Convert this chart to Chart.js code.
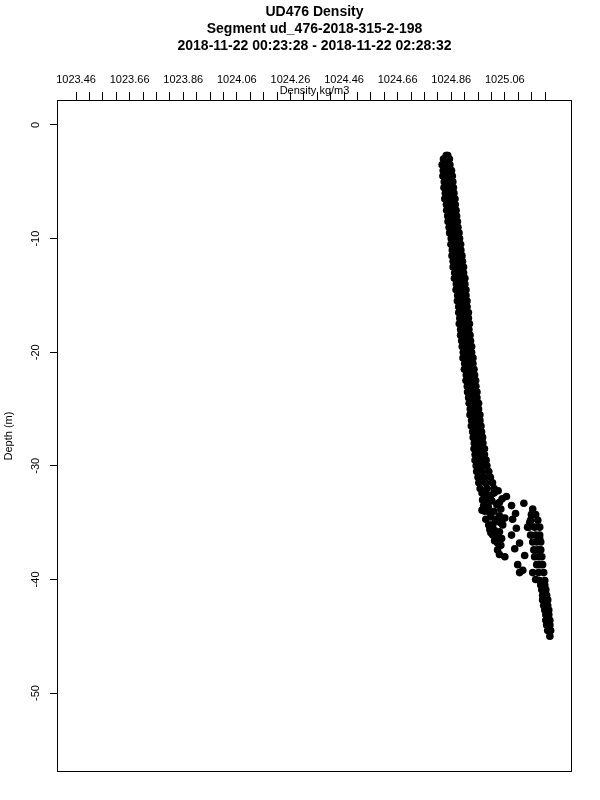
<!DOCTYPE html>
<html>
<head>
<meta charset="utf-8">
<script src="https://cdn.jsdelivr.net/npm/chart.js@4/dist/chart.umd.min.js"></script>
<style>
  body { margin: 0; background: #fff; }
  canvas { display: block; }
</style>
</head>
<body>
<canvas id="chart" width="600" height="800"></canvas>
<script>
const titleLines = [
  "UD476 Density",
  "Segment ud_476-2018-315-2-198",
  "2018-11-22 00:23:28 - 2018-11-22 02:28:32"
];
const xTitle = "Density kg/m3";
const yTitle = "Depth (m)";

// top axis: labelled every 0.2, small ticks every 0.05
const xTickLabels = ["1023.46", "1023.66", "1023.86", "1024.06", "1024.26", "1024.46", "1024.66", "1024.86", "1025.06"];
const xTickStart = 1023.46;
const xTickStep = 0.05;
const xTickCount = 36;
const yTickValues = [-50, -40, -30, -20, -10, 0];

// main profile band, one row per depth: left edge, middle, right edge
const bandDepth = [-2.7, -3.0, -3.5, -4.0, -4.5, -5.0, -5.5, -6.0, -6.5, -7.0, -7.5, -8.0, -8.5, -9.0, -9.5,
  -10.0, -10.5, -11.0, -11.5, -12.0, -12.5, -13.0, -13.5, -14.0, -14.5, -15.0, -15.5, -16.0, -16.5, -17.0,
  -17.5, -18.0, -18.5, -19.0, -19.5, -20.0, -20.5, -21.0, -21.5, -22.0, -22.5, -23.0, -23.5, -24.0, -24.5,
  -25.0, -25.5, -26.0, -26.5, -27.0, -27.5, -28.0, -28.5, -29.0, -29.5, -30.0, -30.5, -31.0, -31.5, -32.0];
const bandLeft = [1024.841, 1024.831, 1024.826, 1024.830, 1024.829, 1024.834, 1024.833, 1024.838, 1024.836, 1024.842,
  1024.843, 1024.847, 1024.848, 1024.852, 1024.854, 1024.860, 1024.859, 1024.864, 1024.863, 1024.867,
  1024.867, 1024.873, 1024.872, 1024.879, 1024.878, 1024.884, 1024.883, 1024.888, 1024.888, 1024.892,
  1024.890, 1024.895, 1024.895, 1024.899, 1024.901, 1024.905, 1024.904, 1024.910, 1024.909, 1024.916,
  1024.915, 1024.920, 1024.921, 1024.925, 1024.927, 1024.931, 1024.930, 1024.936, 1024.935, 1024.940,
  1024.942, 1024.946, 1024.945, 1024.949, 1024.949, 1024.953, 1024.955, 1024.960, 1024.963, 1024.968];
const bandMid = [1024.844, 1024.842, 1024.840, 1024.845, 1024.846, 1024.849, 1024.850, 1024.853, 1024.855, 1024.858,
  1024.860, 1024.862, 1024.866, 1024.868, 1024.871, 1024.875, 1024.877, 1024.879, 1024.881, 1024.884,
  1024.886, 1024.889, 1024.891, 1024.894, 1024.896, 1024.899, 1024.901, 1024.903, 1024.905, 1024.907,
  1024.909, 1024.910, 1024.912, 1024.915, 1024.918, 1024.920, 1024.922, 1024.925, 1024.927, 1024.931,
  1024.933, 1024.935, 1024.938, 1024.940, 1024.944, 1024.946, 1024.948, 1024.951, 1024.953, 1024.956,
  1024.959, 1024.961, 1024.964, 1024.966, 1024.969, 1024.972, 1024.976, 1024.982, 1024.988, 1024.994];
const bandRight = [1024.847, 1024.853, 1024.855, 1024.861, 1024.864, 1024.866, 1024.868, 1024.870, 1024.874, 1024.875,
  1024.878, 1024.880, 1024.883, 1024.885, 1024.889, 1024.891, 1024.895, 1024.896, 1024.900, 1024.902,
  1024.906, 1024.906, 1024.911, 1024.911, 1024.915, 1024.915, 1024.919, 1024.919, 1024.924, 1024.924,
  1024.928, 1024.926, 1024.930, 1024.932, 1024.936, 1024.936, 1024.941, 1024.941, 1024.945, 1024.947,
  1024.951, 1024.952, 1024.956, 1024.956, 1024.962, 1024.962, 1024.967, 1024.967, 1024.971, 1024.973,
  1024.977, 1024.978, 1024.984, 1024.984, 1024.990, 1024.993, 1025.000, 1025.006, 1025.014, 1025.020];

// mixed layer around 32-40 m
const mixDepth = [-32.4, -32.5, -32.6, -32.4, -33.0, -33.0, -33.1, -33.5, -33.6, -33.4, -34.0, -34.1, -34.0,
  -34.7, -34.5, -34.7, -35.2, -35.2, -35.0, -35.6, -35.7, -36.1, -36.3, -36.6, -36.8, -37.4,
  -32.2, -33.2, -33.8, -34.4, -35.8, -36.4, -37.0, -37.8, -35.9, -33.9, -32.9, -34.9,
  -32.7, -33.5, -33.3, -34.2, -33.8, -34.3, -34.3, -34.6, -34.7, -35.2, -35.5, -36.1, -35.4, -36.8,
  -37.3, -38.0, -37.9, -38.7, -39.4, -39.4, -40.0, -35.0, -36.4, -39.2];
const mixDensity = [1024.975, 1024.990, 1025.008, 1025.020, 1024.977, 1024.995, 1025.012, 1024.981, 1024.998, 1025.030,
  1024.985, 1025.004, 1025.019, 1024.989, 1025.008, 1025.026, 1025.000, 1025.015, 1025.045, 1025.004,
  1025.022, 1025.015, 1025.030, 1025.022, 1025.033, 1025.033,
  1025.035, 1025.040, 1025.045, 1025.040, 1025.040, 1025.048, 1025.045, 1025.040, 1025.008, 1024.975,
  1025.050, 1025.035,
  1025.066, 1025.085, 1025.131, 1025.100, 1025.164, 1025.159, 1025.175, 1025.060, 1025.089, 1025.052,
  1025.103, 1025.085, 1025.145, 1025.115, 1025.097, 1025.060, 1025.134, 1025.108, 1025.115, 1025.164,
  1025.175, 1025.153, 1025.190, 1025.127];

// deep branch down to 45 m
const deepDepth = [-34.8, -34.8, -35.4, -35.4, -35.4, -36.1, -36.1, -36.1, -36.7, -36.7, -36.7, -37.4, -37.4, -37.4,
  -38.0, -38.0, -38.0, -38.7, -38.7, -38.7, -39.4, -39.4, -40.1, -40.1, -40.5, -40.5, -40.9, -40.9,
  -41.4, -41.4, -41.8, -41.8, -42.3, -42.3, -42.7, -42.7, -43.1, -43.1, -43.6, -43.6, -44.0, -44.0,
  -44.5, -44.5, -45.0];
const deepDensity = [1025.156, 1025.183, 1025.149, 1025.171, 1025.190, 1025.156, 1025.175, 1025.190, 1025.164, 1025.179,
  1025.194, 1025.168, 1025.183, 1025.194, 1025.171, 1025.186, 1025.198, 1025.179, 1025.190, 1025.201,
  1025.186, 1025.205, 1025.190, 1025.209, 1025.194, 1025.209, 1025.198, 1025.213, 1025.201, 1025.216,
  1025.201, 1025.220, 1025.205, 1025.220, 1025.209, 1025.224, 1025.213, 1025.224, 1025.213, 1025.228,
  1025.216, 1025.228, 1025.220, 1025.231, 1025.228];

const fontFamily = "'Liberation Sans', Arial, Helvetica, sans-serif";

const bandPoints = [];
bandDepth.forEach((d, i) => {
  bandPoints.push({ x: bandLeft[i], y: d });
  bandPoints.push({ x: bandMid[i], y: d });
  bandPoints.push({ x: bandRight[i], y: d });
});
const mixPoints = mixDepth.map((d, i) => ({ x: mixDensity[i], y: d }));
const deepPoints = deepDepth.map((d, i) => ({ x: deepDensity[i], y: d }));

const dotStyle = {
  backgroundColor: "#000",
  borderWidth: 0,
  pointRadius: 3.8,
  pointHoverRadius: 3.8
};

// box round the plot and the x axis title, which sits under the tick labels
const framePlugin = {
  id: "frame",
  afterDraw(chart) {
    const { ctx, chartArea: a } = chart;
    ctx.save();
    ctx.strokeStyle = "#000";
    ctx.lineWidth = 1;
    ctx.strokeRect(a.left + 0.5, a.top + 0.5, a.right - a.left - 1, a.bottom - a.top - 1);
    ctx.fillStyle = "#000";
    ctx.font = "11px " + fontFamily;
    ctx.textAlign = "center";
    ctx.textBaseline = "middle";
    ctx.fillText(xTitle, (a.left + a.right) / 2, a.top - 9);
    ctx.restore();
  }
};

new Chart(document.getElementById("chart").getContext("2d"), {
  type: "scatter",
  data: {
    datasets: [
      { data: bandPoints, ...dotStyle },
      { data: mixPoints, ...dotStyle },
      { data: deepPoints, ...dotStyle }
    ]
  },
  options: {
    responsive: false,
    animation: false,
    devicePixelRatio: 1,
    layout: { padding: { left: 0, top: 0, right: 28, bottom: 28 } },
    plugins: {
      legend: { display: false },
      tooltip: { enabled: false },
      title: {
        display: true,
        fullSize: false,
        text: titleLines,
        color: "#000",
        font: { family: fontFamily, size: 14, weight: "bold", lineHeight: 17 / 14 },
        padding: { top: 4, bottom: 7 }
      }
    },
    scales: {
      x: {
        type: "linear",
        position: "top",
        min: 1023.389,
        max: 1025.3106,
        afterBuildTicks: axis => {
          const ticks = [];
          for (let i = 0; i < xTickCount; i++) ticks.push({ value: xTickStart + i * xTickStep });
          axis.ticks = ticks;
        },
        afterFit: axis => { axis.height = 38; },
        ticks: {
          autoSkip: false,
          maxRotation: 0,
          padding: 5,
          color: "#000",
          font: { family: fontFamily, size: 11 },
          callback: (value, index) => index % 4 === 0 ? xTickLabels[index / 4] : ""
        },
        grid: { drawOnChartArea: false, drawTicks: true, tickLength: 8, color: "#000", tickColor: "#000" },
        border: { display: false }
      },
      y: {
        type: "linear",
        position: "left",
        min: -56.95,
        max: 2.2,
        afterBuildTicks: axis => {
          axis.ticks = yTickValues.map(v => ({ value: v }));
        },
        afterFit: axis => { axis.width = 57; },
        title: {
          display: true,
          text: yTitle,
          color: "#000",
          font: { family: fontFamily, size: 11 },
          padding: { top: 2, bottom: 0 }
        },
        ticks: {
          autoSkip: false,
          minRotation: 90,
          maxRotation: 90,
          crossAlign: "center",
          padding: 6,
          color: "#000",
          font: { family: fontFamily, size: 11 }
        },
        grid: { drawOnChartArea: false, drawTicks: true, tickLength: 7, color: "#000", tickColor: "#000" },
        border: { display: false }
      }
    }
  },
  plugins: [framePlugin]
});
</script>
</body>
</html>
